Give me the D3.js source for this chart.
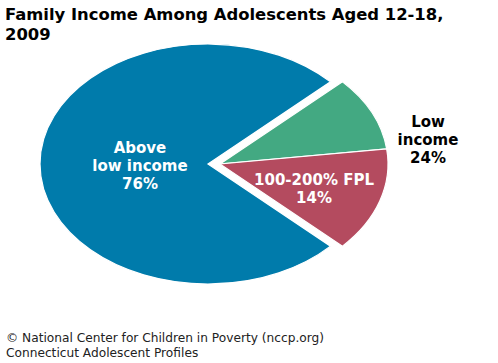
<!DOCTYPE html>
<html>
<head>
<script src="https://d3js.org/d3.v7.min.js"></script>
<style>
  body { margin: 0; background: #fff; }
  text { font-family: "DejaVu Sans", sans-serif; }
</style>
</head>
<body>
<script>
  // slices, clockwise from the top of the low-income wedge
  const categories = ["Below 100% FPL", "100-200% FPL", "Above low income"];
  const values = [10, 14, 76];
  const colors = ["#43a982", "#b44b5f", "#007bab"];
  const exploded = [true, true, false];

  const width = 498, height = 363;
  const cx = 208, cy = 164, ry = 120, squash = 1.4, explode = 12;

  const svg = d3.select("body").append("svg")
      .attr("width", width)
      .attr("height", height);

  svg.append("text")
      .attr("x", 5).attr("y", 20)
      .attr("font-size", 16.4).attr("font-weight", "bold")
      .text("Family Income Among Adolescents Aged 12-18,");
  svg.append("text")
      .attr("x", 5).attr("y", 40)
      .attr("font-size", 16.4).attr("font-weight", "bold")
      .text("2009");

  // low income part (24%) centred on 3 o'clock
  const lowShare = (values[0] + values[1]) / d3.sum(values);
  const start = Math.PI / 2 - lowShare * Math.PI;

  const pie = d3.pie().sort(null).startAngle(start).endAngle(start + 2 * Math.PI);
  const arcs = pie(values);
  const arc = d3.arc().innerRadius(0).outerRadius(ry);

  const g = svg.append("g");
  g.selectAll("path")
      .data(arcs)
      .enter()
      .append("path")
      .attr("transform", (d, i) =>
          `translate(${cx + (exploded[i] ? explode : 0)},${cy}) scale(${squash},1)`)
      .attr("fill", (d, i) => colors[i])
      .attr("stroke", "#fff")
      .attr("stroke-width", 1.2)
      .attr("vector-effect", "non-scaling-stroke")
      .attr("d", arc);

  function label(lines, x, y0, color) {
    const t = svg.append("text")
        .attr("text-anchor", "middle")
        .attr("font-size", 15)
        .attr("font-weight", "bold")
        .attr("fill", color);
    lines.forEach((s, i) => {
      t.append("tspan").attr("x", x).attr("y", y0 + i * 18).text(s);
    });
  }

  label(["Above", "low income", values[2] + "%"], 140, 153, "#fff");
  label([categories[1], values[1] + "%"], 314, 185, "#fff");
  label(["Low", "income", (values[0] + values[1]) + "%"], 428, 127, "#000");

  svg.append("text")
      .attr("x", 6).attr("y", 342)
      .attr("font-size", 12.2).attr("fill", "#222")
      .text("\u00a9 National Center for Children in Poverty (nccp.org)");
  svg.append("text")
      .attr("x", 6).attr("y", 357)
      .attr("font-size", 12.2).attr("fill", "#222")
      .text("Connecticut Adolescent Profiles");
</script>
</body>
</html>
